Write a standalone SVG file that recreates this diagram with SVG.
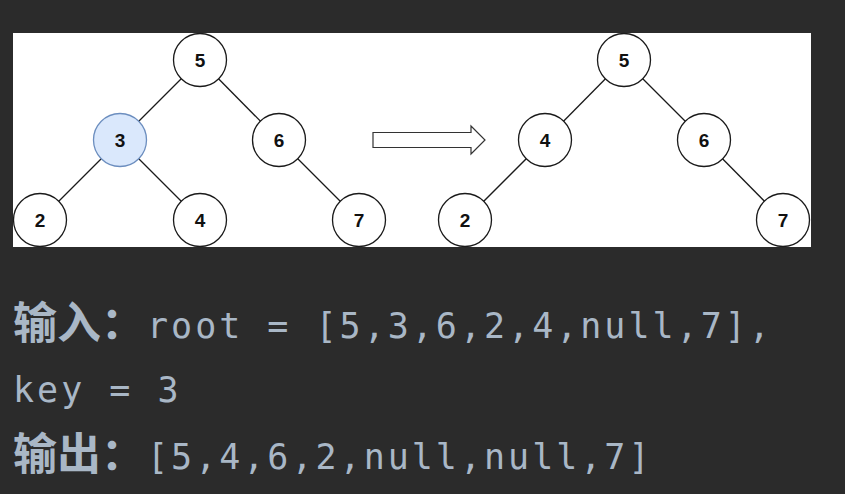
<svg xmlns="http://www.w3.org/2000/svg" width="845" height="494" viewBox="0 0 845 494">
<style>
.edge{stroke:#1a1a1a;stroke-width:1.3;fill:none}
.node circle{fill:#ffffff;stroke:#1a1a1a;stroke-width:1.3}
.node.hl circle{fill:#dae8fc;stroke:#6c8ebf}
.node text{font-family:"Liberation Sans",Arial,sans-serif;font-weight:bold;font-size:19px;fill:#111;text-anchor:middle}
.cjk{font-family:"Noto Sans CJK SC","Noto Sans",sans-serif;font-weight:bold;font-size:44px;fill:#a9b7c6}
.mono{font-family:"DejaVu Sans Mono",monospace;font-size:35px;letter-spacing:3px;fill:#a9b7c6}
</style>
<rect width="845" height="494" fill="#2b2b2b"/>
<rect x="13" y="33" width="798" height="214" fill="#ffffff"/>
<g id="connectors">
<line class="edge" x1="200" y1="60" x2="120" y2="140"/>
<line class="edge" x1="200" y1="60" x2="279" y2="140"/>
<line class="edge" x1="120" y1="140" x2="40" y2="220"/>
<line class="edge" x1="120" y1="140" x2="200" y2="220"/>
<line class="edge" x1="279" y1="140" x2="359" y2="220"/>
<line class="edge" x1="624" y1="60" x2="545" y2="140"/>
<line class="edge" x1="624" y1="60" x2="704" y2="140"/>
<line class="edge" x1="545" y1="140" x2="465" y2="220"/>
<line class="edge" x1="704" y1="140" x2="783" y2="220"/>
</g>
<g id="arrow">
<path d="M373,132.5 H471 V126 L485,140 L471,154 V147.5 H373 Z" fill="#ffffff" stroke="#333" stroke-width="1.2"/>
</g>
<g id="L5" class="node"><circle cx="200" cy="60" r="26.5"/><text x="200" y="67">5</text></g>
<g id="L3" class="node hl"><circle cx="120" cy="140" r="26.5"/><text x="120" y="147">3</text></g>
<g id="L6" class="node"><circle cx="279" cy="140" r="26.5"/><text x="279" y="147">6</text></g>
<g id="L2" class="node"><circle cx="40" cy="220" r="26.5"/><text x="40" y="227">2</text></g>
<g id="L4" class="node"><circle cx="200" cy="220" r="26.5"/><text x="200" y="227">4</text></g>
<g id="L7" class="node"><circle cx="359" cy="220" r="26.5"/><text x="359" y="227">7</text></g>
<g id="R5" class="node"><circle cx="624" cy="60" r="26.5"/><text x="624" y="67">5</text></g>
<g id="R4" class="node"><circle cx="545" cy="140" r="26.5"/><text x="545" y="147">4</text></g>
<g id="R6" class="node"><circle cx="704" cy="140" r="26.5"/><text x="704" y="147">6</text></g>
<g id="R2" class="node"><circle cx="465" cy="220" r="26.5"/><text x="465" y="227">2</text></g>
<g id="R7" class="node"><circle cx="783" cy="220" r="26.5"/><text x="783" y="227">7</text></g>
<g id="caption">
<text class="cjk" x="13" y="339">输入：</text>
<text class="mono" x="147" y="338">root = [5,3,6,2,4,null,7],</text>
<text class="mono" x="13" y="402">key = 3</text>
<text class="cjk" x="13" y="470">输出：</text>
<text class="mono" x="147" y="469">[5,4,6,2,null,null,7]</text>
</g>
</svg>
